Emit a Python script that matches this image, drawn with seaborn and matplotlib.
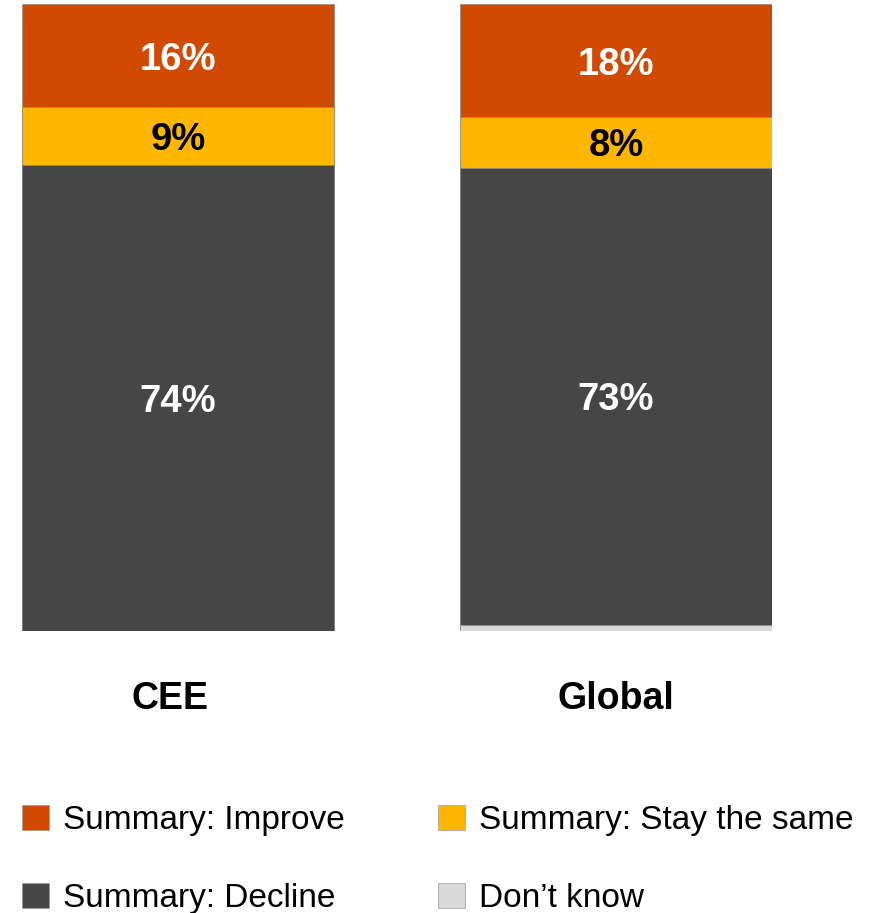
import matplotlib
matplotlib.use("Agg")
import matplotlib.pyplot as plt
import matplotlib.transforms as mtransforms
from matplotlib.patches import Patch
import numpy as np
import pandas as pd
import seaborn as sns

# Survey outlook shares (%) per region
regions = ["CEE", "Global"]
improve = [16.4, 18.0]
stay_same = [9.2, 8.1]
decline = [74.4, 72.9]
dont_know = [0.0, 1.0]

series_names = ["Summary: Improve", "Summary: Stay the same",
                "Summary: Decline", "Don\u2019t know"]
colors = {"Summary: Improve": "#D04A02",
          "Summary: Stay the same": "#FFB600",
          "Summary: Decline": "#464646",
          "Don\u2019t know": "#D9D9D9"}

df = pd.DataFrame({"region": regions, "improve": improve, "stay": stay_same,
                   "decline": decline, "dk": dont_know})
# cumulative heights, stacked bottom-up: don't know, decline, stay, improve
df["c_dk"] = df["dk"]
df["c_decline"] = df["c_dk"] + df["decline"]
df["c_stay"] = df["c_decline"] + df["stay"]
df["c_improve"] = df["c_stay"] + df["improve"]

sns.set_theme(style="white")
bold_family = ["Liberation Sans", "DejaVu Sans"]
plt.rcParams["font.family"] = ["Liberation Sans", "DejaVu Sans"]
plt.rcParams["text.color"] = "black"

fig = plt.figure(figsize=(8.77, 9.13), dpi=100)
W, H = 877, 913
ax = fig.add_axes([22 / W, (H - 631) / H, (772 - 22) / W, 627 / H])

bar_w = 312 / 437.5
layers = [("c_improve", "Summary: Improve"),
          ("c_stay", "Summary: Stay the same"),
          ("c_decline", "Summary: Decline"),
          ("c_dk", "Don\u2019t know")]
for col, name in layers:
    sns.barplot(data=df, x="region", y=col, color=colors[name], width=bar_w,
                saturation=1, edgecolor="#8c8c8c", linewidth=0.5, ax=ax)

ax.set_xlim(-bar_w / 2, 1 + bar_w / 2)
ax.set_ylim(0, 100)
ax.set_ylabel("")
ax.set_xlabel("")
ax.set_yticks([])
for s in ax.spines.values():
    s.set_visible(False)
ax.tick_params(axis="x", length=0, pad=36)
for lab in ax.get_xticklabels():
    lab.set_fontsize(27)
    lab.set_fontweight("bold")
    lab.set_family(bold_family)
    lab.set_color("black")
# the CEE caption sits slightly left of its bar's centre
first = ax.get_xticklabels()[0]
first.set_transform(first.get_transform() +
                    mtransforms.ScaledTranslation(-6 / 72, 0, fig.dpi_scale_trans))

# segment value labels
for i, row in df.iterrows():
    segs = [(row["c_stay"], row["improve"], "white"),
            (row["c_decline"], row["stay"], "black"),
            (row["c_dk"], row["decline"], "white")]
    for base, val, tc in segs:
        ax.annotate(f"{val:.0f}%", xy=(i, base + val / 2), xytext=(0, -3),
                    textcoords="offset points", ha="center", va="center",
                    fontsize=27.5, fontweight="bold", color=tc,
                    family=bold_family)

legend_order = ["Summary: Improve", "Summary: Decline",
                "Summary: Stay the same", "Don\u2019t know"]
handles = [Patch(facecolor=colors[n], edgecolor="#9a9a9a", linewidth=0.5)
           for n in legend_order]
fs = 24
fig.legend(handles, legend_order, loc="upper left",
           bbox_to_anchor=(22 / W, 1 - 805 / H), ncol=2, frameon=False,
           fontsize=fs, labelcolor="black", handlelength=0.81,
           handleheight=0.78, handletextpad=0.42, columnspacing=2.8,
           labelspacing=1.4, borderpad=0, borderaxespad=0)

fig.savefig("out.png", dpi=100)
